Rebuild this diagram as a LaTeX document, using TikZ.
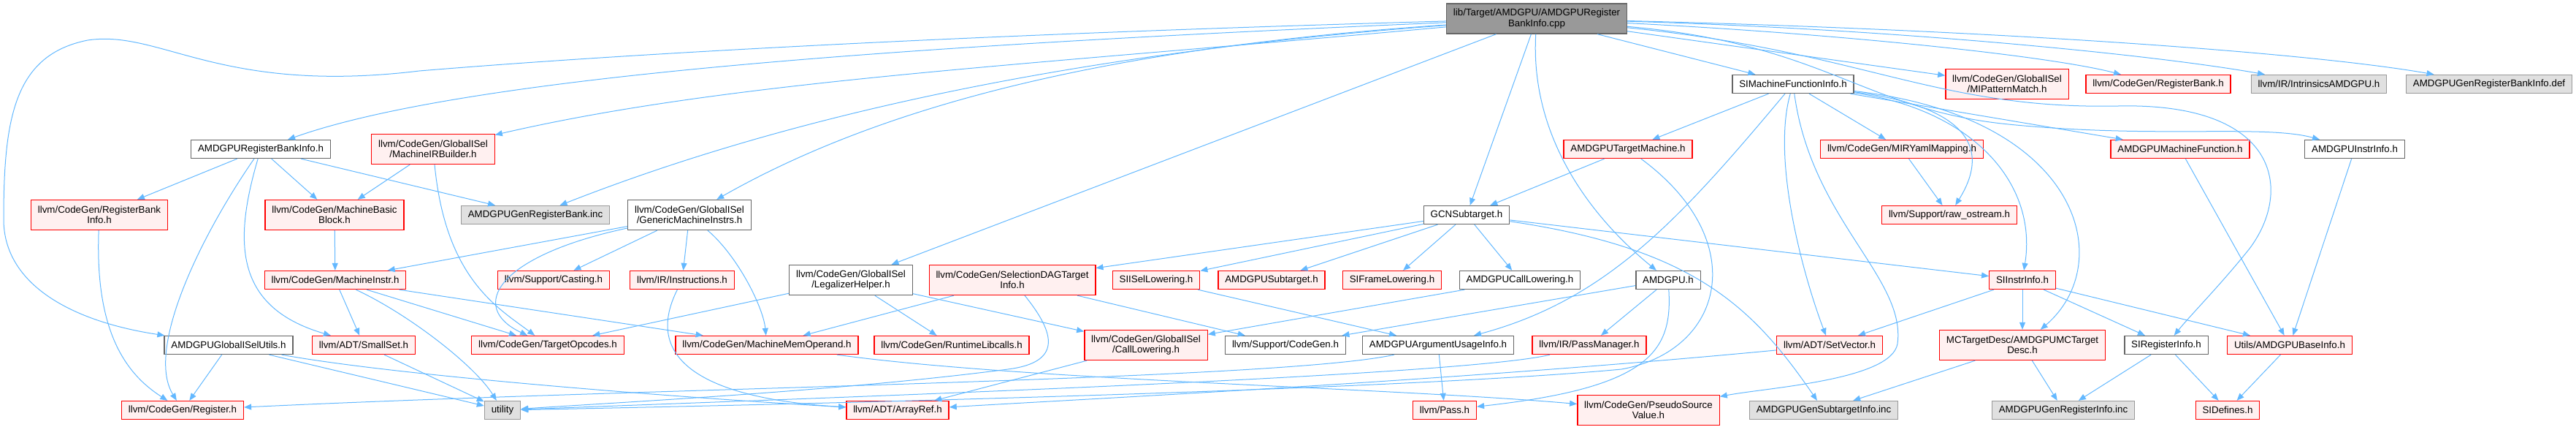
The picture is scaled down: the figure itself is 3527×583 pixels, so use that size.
\documentclass[tikz,border=0pt]{standalone}
\usepackage{fontspec}
\setmainfont{Liberation Sans}
\usepackage{tikz}
\usetikzlibrary{arrows.meta,positioning}
\definecolor{edgeblue}{RGB}{99,184,255}
\definecolor{redline}{RGB}{255,0,0}
\definecolor{redfill}{RGB}{255,240,240}
\definecolor{greyline}{RGB}{102,102,102}
\definecolor{extline}{RGB}{153,153,153}
\definecolor{extfill}{RGB}{224,224,224}
\definecolor{rootfill}{RGB}{153,153,153}
\tikzset{
  hdrbox/.style={draw, line width=1pt, inner xsep=7pt, inner ysep=2pt, align=center,
    font=\fontsize{10pt}{10.6pt}\selectfont},
  docbox/.style={hdrbox, draw=greyline, fill=white},
  trunbox/.style={hdrbox, draw=redline, fill=redfill},
  extbox/.style={hdrbox, draw=extline, fill=extfill},
  rootbox/.style={hdrbox, draw=greyline, fill=rootfill},
  incl/.style={-{Stealth[length=7.5pt,width=6pt,inset=0pt]}, line width=0.75pt, edgeblue},
}

\begin{document}
\begin{tikzpicture}[x=0.75pt, y=-0.75pt]
    \useasboundingbox (0,0) rectangle (3527,583);
    \node[rootbox, minimum height=30.75pt] (root) at (2104,25.5) {lib/Target/AMDGPU/AMDGPURegister\\BankInfo.cpp};
    \foreach \n/\x/\y/\h/\lab in {
      mirb/593/204/30.75/{llvm/CodeGen/GlobalISel\\/MachineIRBuilder.h},
      rbinfo/136/294/30.75/{llvm/CodeGen/RegisterBank\\Info.h},
      mbb/458/294/30.75/{llvm/CodeGen/MachineBasic\\Block.h},
      mi/459/383/18.75/{llvm/CodeGen/MachineInstr.h},
      casting/758/383/18.75/{llvm/Support/Casting.h},
      instrs/934/383/18.75/{llvm/IR/Instructions.h},
      sdti/1386/383/30.75/{llvm/CodeGen/SelectionDAGTarget\\Info.h},
      isel/1583/383/18.75/{SIISelLowering.h},
      amdsub/1741/383/18.75/{AMDGPUSubtarget.h},
      frame/1906/383/18.75/{SIFrameLowering.h},
      siinstr/2769/383/18.75/{SIInstrInfo.h},
      tm/2229/204/18.75/{AMDGPUTargetMachine.h},
      yaml/2604/204/18.75/{llvm/CodeGen/MIRYamlMapping.h},
      mfunc/2985/204/18.75/{AMDGPUMachineFunction.h},
      ostream/2669/294/18.75/{llvm/Support/raw\_ostream.h},
      mipm/2748/115/30.75/{llvm/CodeGen/GlobalISel\\/MIPatternMatch.h},
      regbank/2955/115/18.75/{llvm/CodeGen/RegisterBank.h},
      smallset/498/472/18.75/{llvm/ADT/SmallSet.h},
      topc/750/472/18.75/{llvm/CodeGen/TargetOpcodes.h},
      mmo/1050/472/18.75/{llvm/CodeGen/MachineMemOperand.h},
      libcalls/1303/472/18.75/{llvm/CodeGen/RuntimeLibcalls.h},
      calllow/1569/472/30.75/{llvm/CodeGen/GlobalISel\\/CallLowering.h},
      passmgr/2176/472/18.75/{llvm/IR/PassManager.h},
      setvec/2505/472/18.75/{llvm/ADT/SetVector.h},
      mctd/2769/472/30.75/{MCTargetDesc/AMDGPUMCTarget\\Desc.h},
      baseinfo/3135/472/18.75/{Utils/AMDGPUBaseInfo.h},
      reg/250/561/18.75/{llvm/CodeGen/Register.h},
      arrayref/1229/561/18.75/{llvm/ADT/ArrayRef.h},
      pass/1978/561/18.75/{llvm/Pass.h},
      psv/2257/561/30.75/{llvm/CodeGen/PseudoSource\\Value.h},
      sidefs/3050/561/18.75/{SIDefines.h}}
      \node[trunbox, minimum height=\h pt] (\n) at (\x,\y) {\lab};
    \foreach \n/\x/\y/\h/\lab in {
      rbih/357/204/18.75/{AMDGPURegisterBankInfo.h},
      simfi/2455/115/18.75/{SIMachineFunctionInfo.h},
      instrinfo/3224/204/18.75/{AMDGPUInstrInfo.h},
      gmi/944/294/30.75/{llvm/CodeGen/GlobalISel\\/GenericMachineInstrs.h},
      gcn/2008/294/18.75/{GCNSubtarget.h},
      legal/1165/383/30.75/{llvm/CodeGen/GlobalISel\\/LegalizerHelper.h},
      acl/2081/383/18.75/{AMDGPUCallLowering.h},
      amdgpuh/2284/383/18.75/{AMDGPU.h},
      gisu/313/472/18.75/{AMDGPUGlobalISelUtils.h},
      suppcg/1760/472/18.75/{llvm/Support/CodeGen.h},
      argui/1969/472/18.75/{AMDGPUArgumentUsageInfo.h},
      sireg/2966/472/18.75/{SIRegisterInfo.h}}
      \node[docbox, minimum height=\h pt] (\n) at (\x,\y) {\lab};
    \foreach \n/\x/\y/\lab in {
      intr/3175/115/{llvm/IR/IntrinsicsAMDGPU.h},
      grbidef/3408/115/{AMDGPUGenRegisterBankInfo.def},
      grbinc/733/294/{AMDGPUGenRegisterBank.inc},
      utility/688/561/{utility},
      gsti/2497/561/{AMDGPUGenSubtargetInfo.inc},
      grii/2825/561/{AMDGPUGenRegisterInfo.inc}}
      \node[extbox, minimum height=18.75pt] (\n) at (\x,\y) {\lab};

    \foreach \a/\b in {rbih/rbinfo, rbih/mbb, rbih/grbinc, mirb/mbb, mbb/mi, gmi/mi, gmi/casting,
      gmi/instrs, mi/smallset, mi/topc, mi/mmo, gisu/reg, gisu/utility, smallset/utility,
      legal/topc, legal/libcalls, legal/calllow, sdti/mmo, sdti/suppcg, isel/argui,
      calllow/arrayref, gcn/sdti, gcn/isel, gcn/amdsub, gcn/frame, gcn/acl, gcn/siinstr,
      acl/calllow, amdgpuh/suppcg, amdgpuh/passmgr, argui/pass, tm/gcn, simfi/tm, simfi/yaml,
      simfi/mfunc, siinstr/setvec, siinstr/mctd, siinstr/sireg, siinstr/baseinfo, yaml/ostream,
      mfunc/baseinfo, instrinfo/baseinfo, mctd/grii, mctd/gsti, sireg/grii, sireg/sidefs,
      baseinfo/sidefs, root/legal, root/gcn, root/simfi, root/mipm}
      \draw[incl] (\a) -- (\b);

    \draw[incl] (root) .. controls (1400,45) and (900,70) .. (574,97)
      .. controls (300,130) and (220,40) .. (120,55) .. controls (20,75) and (5,160) .. (5,300)
      .. controls (5,390) and (100,440) .. (gisu);
    \draw[incl] (root) .. controls (1300,60) and (650,100) .. (rbih);
    \draw[incl] (root) .. controls (1400,90) and (1000,110) .. (mirb);
    \draw[incl] (root) .. controls (1500,70) and (1100,150) .. (grbinc);
    \draw[incl] (root) .. controls (1600,60) and (1250,120) .. (gmi);
    \draw[incl] (root) .. controls (2095,180) and (2170,290) .. (amdgpuh);
    \draw[incl] (root) .. controls (2500,45) and (2800,75) .. (regbank);
    \draw[incl] (root) .. controls (2600,40) and (2950,75) .. (intr);
    \draw[incl] (root) .. controls (2700,40) and (3150,70) .. (grbidef);
    \draw[incl] (root) .. controls (2500,60) and (2550,150) .. (2750,170)
      .. controls (2950,190) and (3100,170) .. (instrinfo);
    \draw[incl] (root) .. controls (2550,70) and (2650,150) .. (2900,145)
      .. controls (3120,140) and (3140,260) .. (3080,340) .. controls (3040,390) and (3000,430) .. (sireg);
    \draw[incl] (rbih) .. controls (270,330) and (200,480) .. (reg);
    \draw[incl] (rbih) .. controls (320,330) and (320,420) .. (smallset);
    \draw[incl] (mirb) .. controls (610,380) and (680,420) .. (topc);
    \draw[incl] (rbinfo) .. controls (130,450) and (170,510) .. (reg);
    \draw[incl] (gmi) .. controls (680,350) and (640,420) .. (topc);
    \draw[incl] (gmi) .. controls (1010,350) and (1045,420) .. (mmo);
    \draw[incl] (mi) .. controls (560,430) and (650,500) .. (utility);
    \draw[incl] (gisu) .. controls (550,515) and (950,545) .. (arrayref);
    \draw[incl] (instrs) .. controls (880,490) and (960,545) .. (arrayref);
    \draw[incl] (sdti) .. controls (1440,450) and (1460,495) .. (1380,505)
      .. controls (1150,535) and (850,550) .. (utility);
    \draw[incl] (passmgr) .. controls (2000,515) and (1100,545) .. (utility);
    \draw[incl] (tm) .. controls (2400,330) and (2360,480) .. (2220,505)
      .. controls (1900,535) and (1000,555) .. (utility);
    \draw[incl] (argui) .. controls (1750,520) and (900,530) .. (reg);
    \draw[incl] (amdgpuh) .. controls (2290,480) and (2260,530) .. (pass);
    \draw[incl] (gcn) .. controls (2320,340) and (2400,420) .. (gsti);
    \draw[incl] (simfi) .. controls (2300,300) and (2200,410) .. (argui);
    \draw[incl] (simfi) .. controls (2425,220) and (2470,380) .. (setvec);
    \draw[incl] (simfi) .. controls (2480,300) and (2610,380) .. (2598,470)
      .. controls (2590,520) and (2420,530) .. (psv);
    \draw[incl] (simfi) .. controls (2650,140) and (2740,180) .. (ostream);
    \draw[incl] (simfi) .. controls (2700,150) and (2790,250) .. (siinstr);
    \draw[incl] (simfi) .. controls (2850,160) and (2900,360) .. (mctd);
    \draw[incl] (setvec) .. controls (2000,520) and (1500,545) .. (arrayref);
    \draw[incl] (mmo) .. controls (1400,520) and (1900,530) .. (psv);
  \end{tikzpicture}
\end{document}
